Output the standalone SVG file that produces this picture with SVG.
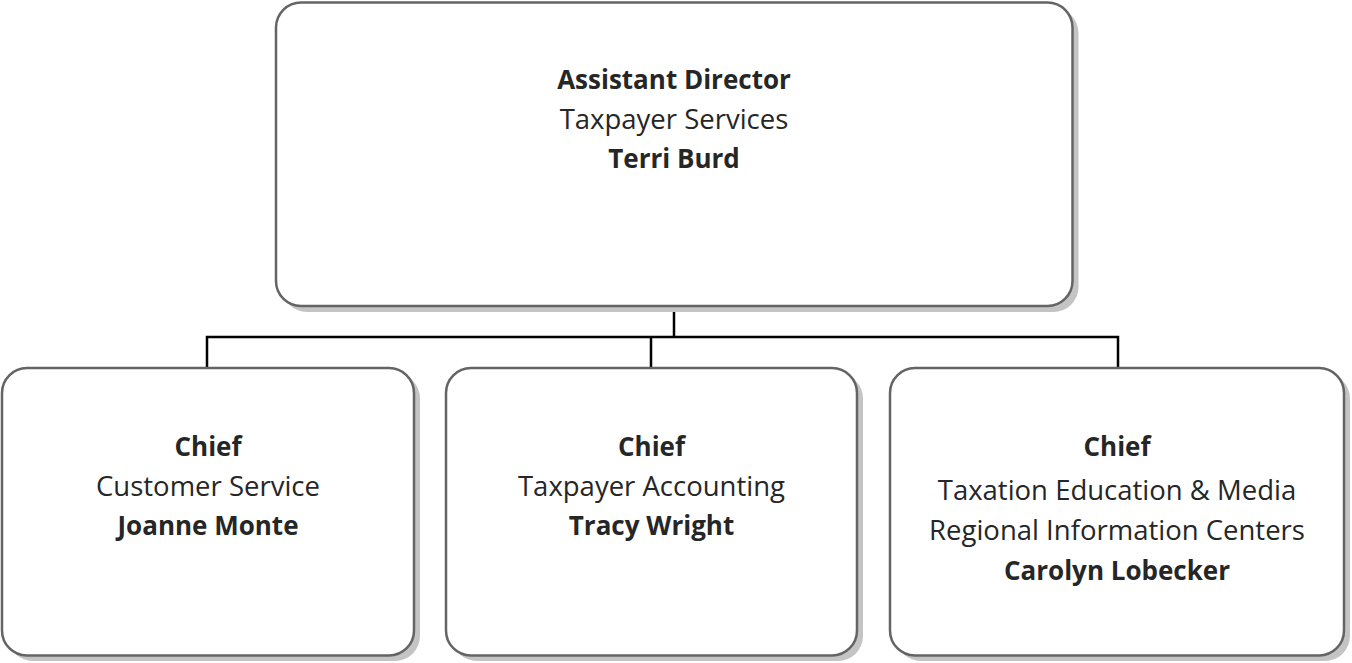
<svg xmlns="http://www.w3.org/2000/svg" width="1352" height="663" viewBox="0 0 1352 663">
<style>
.box{fill:#ffffff;stroke:#646464;stroke-width:2.5}
.shadow{fill:#c4c4c4}
.t{font-family:"Open Sans","Liberation Sans",sans-serif;font-size:27.5px;fill:#262626;text-anchor:middle}
.b{font-weight:bold;font-size:26px}
.conn{fill:none;stroke:#000000;stroke-width:2.5}
</style>
<rect width="1352" height="663" fill="#ffffff"/>
<g id="connectors">
<path class="conn" d="M674 306 V337 M207 368 V337 H1118 V368 M651 337 V368"/>
</g>
<g id="node-assistant-director">
<rect class="shadow" x="282" y="8" width="796.5" height="304" rx="25"/>
<rect class="box" x="276" y="2.5" width="796.5" height="303.5" rx="25"/>
<text class="t b" x="674" y="89">Assistant Director</text>
<text class="t" x="674" y="128.5">Taxpayer Services</text>
<text class="t b" x="674" y="168">Terri Burd</text>
</g>
<g id="node-customer-service">
<rect class="shadow" x="8" y="373.5" width="412" height="287.5" rx="25"/>
<rect class="box" x="2" y="368" width="412" height="287.5" rx="25"/>
<text class="t b" x="208" y="456">Chief</text>
<text class="t" x="208" y="495.5">Customer Service</text>
<text class="t b" x="208" y="535">Joanne Monte</text>
</g>
<g id="node-taxpayer-accounting">
<rect class="shadow" x="452" y="373.5" width="411" height="287.5" rx="25"/>
<rect class="box" x="446" y="368" width="411" height="287.5" rx="25"/>
<text class="t b" x="651.5" y="456">Chief</text>
<text class="t" x="651.5" y="495.5">Taxpayer Accounting</text>
<text class="t b" x="651.5" y="535">Tracy Wright</text>
</g>
<g id="node-taxation-education">
<rect class="shadow" x="896" y="373.5" width="454" height="287.5" rx="25"/>
<rect class="box" x="890" y="368" width="454" height="287.5" rx="25"/>
<text class="t b" x="1117" y="456">Chief</text>
<text class="t" x="1117" y="499.5">Taxation Education &amp; Media</text>
<text class="t" x="1117" y="540">Regional Information Centers</text>
<text class="t b" x="1117" y="580">Carolyn Lobecker</text>
</g>
</svg>
